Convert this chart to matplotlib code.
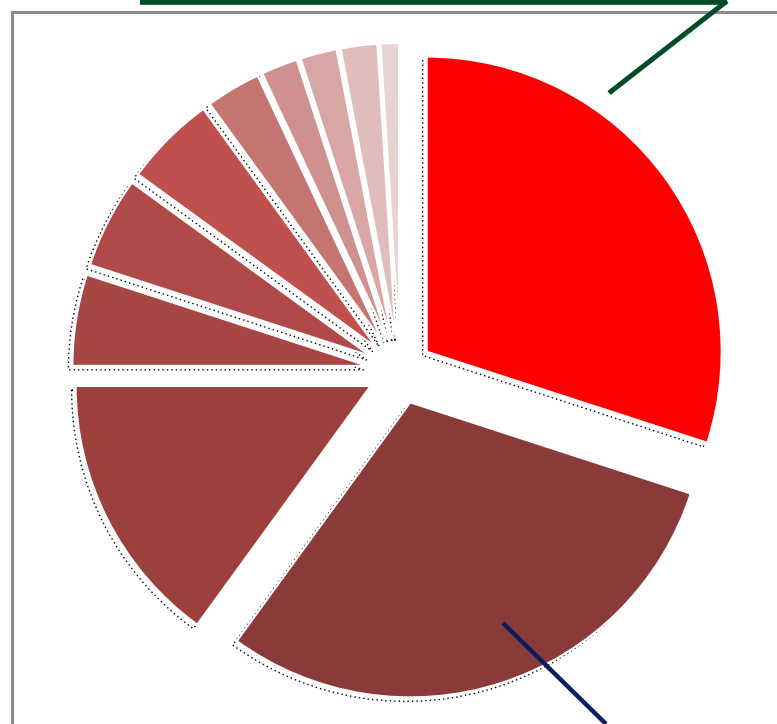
"""Exploded pie, clockwise from 12 o'clock, with leader lines and frame."""
import matplotlib as mpl
import matplotlib.pyplot as plt
from matplotlib.patches import Wedge
from matplotlib.lines import Line2D

W, H = 777, 724

# slice shares (percent), clockwise from the top
shares = [30, 30, 15, 5, 5, 5, 3, 2, 2, 2, 1]
colors = ["#FF0000", "#8B3A3A", "#9C403E", "#A64645", "#B04A48", "#C0504D",
          "#C47571", "#CF918F", "#D8A6A5", "#E0BDBC", "#E8D2D2"]

CX, CY = 400, H - 371     # pie centre (pixels, y up)
R = 295
EXPLODE = 33              # matplotlib's explode offset is in data units here

fig = plt.figure(figsize=(W / 100, H / 100), dpi=100)
ax = fig.add_axes([0, 0, 1, 1])

wedges, _ = ax.pie(shares, colors=colors, startangle=90, counterclock=False,
                   explode=[EXPLODE] * len(shares), center=(CX, CY), radius=R,
                   wedgeprops=dict(edgecolor="white", linewidth=1.5), frame=True)
ax.set_xlim(0, W); ax.set_ylim(0, H); ax.set_aspect("equal")
ax.axis("off")

# dotted "shadow" under each wedge, shifted down-left
for w in wedges:
    cx, cy = w.center
    sh = Wedge((cx - 4, cy - 4), w.r, w.theta1, w.theta2, facecolor="none",
               edgecolor="black", lw=1.0, ls=(0, (1, 2.2)), zorder=0)
    ax.add_patch(sh)
for w in wedges:
    w.set_zorder(2)

# frame
px = lambda x, y: (x / W, 1 - y / H)
fr = "#8C8C8C"
fig.add_artist(Line2D(*zip(px(12, 12), px(12, H)), color=fr, lw=2.2))
fig.add_artist(Line2D(*zip(px(12, 12), px(W, 12)), color=fr, lw=2.2))

# leader lines
green = "#004C26"
fig.add_artist(Line2D(*zip(px(140, 1), px(727, 1)), color=green, lw=5.5,
                      solid_capstyle="butt"))
fig.add_artist(Line2D(*zip(px(727, 1), px(609, 93)), color=green, lw=3.6,
                      solid_capstyle="butt"))
fig.add_artist(Line2D(*zip(px(503, 623), px(606, 724)), color="#0B1F5E",
                      lw=3.2, solid_capstyle="butt"))

fig.savefig("out.png", dpi=100, facecolor="white")
